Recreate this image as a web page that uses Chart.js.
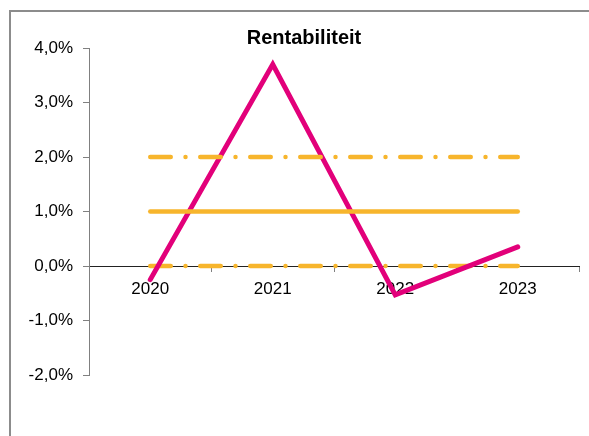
<!DOCTYPE html>
<html>
<head>
<meta charset="utf-8">
<title>Rentabiliteit</title>
<script src="https://cdn.jsdelivr.net/npm/chart.js@4.4.0/dist/chart.umd.min.js"></script>
<style>
  html, body { margin: 0; padding: 0; background: #fff; overflow: hidden; }
  #wrap { position: relative; width: 589px; height: 436px; }
</style>
</head>
<body>
<div id="wrap"><canvas id="chart" width="589" height="436"></canvas></div>
<script>
// Chart data
const years = ['2020', '2021', '2022', '2023'];
const rentabiliteit = [-0.25, 3.7, -0.53, 0.35];
const bovengrens = [2, 2, 2, 2];
const norm = [1, 1, 1, 1];
const ondergrens = [0, 0, 0, 0];
const yTicks = [-2, -1, 0, 1, 2, 3, 4];
const titleText = 'Rentabiliteit';

const magenta = '#E2007A';
const orange = '#F7B52C';
const dashDot = [20.5, 14.75, 0, 14.75];

Chart.defaults.font.family = '"Liberation Sans", Arial, sans-serif';
Chart.defaults.color = '#000';

// Outer frame (clipped at right and bottom like the original)
const framePlugin = {
    id: 'frame',
    beforeDraw(chart) {
        const ctx = chart.ctx;
        ctx.save();
        ctx.strokeStyle = '#8c8c8c';
        ctx.lineWidth = 2;
        ctx.beginPath();
        ctx.moveTo(10, 440);
        ctx.lineTo(10, 11);
        ctx.lineTo(595, 11);
        ctx.stroke();
        ctx.restore();
    }
};

// Title, centred on the frame rather than on the plot
const titlePlugin = {
    id: 'titleText',
    afterDraw(chart) {
        const ctx = chart.ctx;
        ctx.save();
        ctx.font = 'bold 20px "Liberation Sans", Arial, sans-serif';
        ctx.fillStyle = '#000';
        ctx.textAlign = 'center';
        ctx.textBaseline = 'alphabetic';
        ctx.fillText(titleText, 304, 44);
        ctx.restore();
    }
};

function fmtPct(v) {
    return v.toFixed(1).replace('.', ',') + '%';
}

const ctx = document.getElementById('chart').getContext('2d');
new Chart(ctx, {
    type: 'line',
    data: {
        labels: years,
        datasets: [
            {
                label: 'Bovengrens',
                data: bovengrens,
                borderColor: orange,
                borderWidth: 4.5,
                borderDash: dashDot,
                borderCapStyle: 'round',
                pointRadius: 0,
                fill: false
            },
            {
                label: 'Norm',
                data: norm,
                borderColor: orange,
                borderWidth: 4.5,
                borderCapStyle: 'round',
                pointRadius: 0,
                fill: false
            },
            {
                label: 'Rentabiliteit',
                data: rentabiliteit,
                borderColor: magenta,
                borderWidth: 5,
                borderCapStyle: 'round',
                borderJoinStyle: 'miter',
                pointRadius: 0,
                tension: 0,
                fill: false
            },
            {
                label: 'Ondergrens',
                data: ondergrens,
                borderColor: orange,
                borderWidth: 4.5,
                borderDash: dashDot,
                borderCapStyle: 'round',
                pointRadius: 0,
                fill: false
            }
        ]
    },
    options: {
        responsive: false,
        devicePixelRatio: 1,
        animation: false,
        layout: {
            padding: { left: 0, right: 10, top: 48, bottom: 61 }
        },
        plugins: {
            legend: { display: false },
            tooltip: { enabled: false },
            title: { display: false }
        },
        scales: {
            x: {
                type: 'category',
                position: { y: 0 },
                offset: true,
                grid: {
                    display: true,
                    offset: true,
                    drawOnChartArea: false,
                    drawTicks: true,
                    tickLength: 5,
                    color: '#808080'
                },
                border: { display: true, color: '#222', width: 1 },
                ticks: {
                    padding: 8,
                    maxRotation: 0,
                    autoSkip: false,
                    color: '#000',
                    font: { size: 17 }
                }
            },
            y: {
                type: 'linear',
                position: 'left',
                min: -2,
                max: 4,
                afterBuildTicks: scale => {
                    scale.ticks = yTicks.map(v => ({ value: v }));
                },
                afterFit: scale => {
                    scale.width = 89;
                },
                grid: {
                    display: true,
                    drawOnChartArea: false,
                    drawTicks: true,
                    tickLength: 6,
                    color: '#808080'
                },
                border: { display: true, color: '#808080', width: 1 },
                ticks: {
                    padding: 10,
                    color: '#000',
                    font: { size: 17 },
                    callback: value => fmtPct(value)
                }
            }
        }
    },
    plugins: [framePlugin, titlePlugin]
});
</script>
</body>
</html>
